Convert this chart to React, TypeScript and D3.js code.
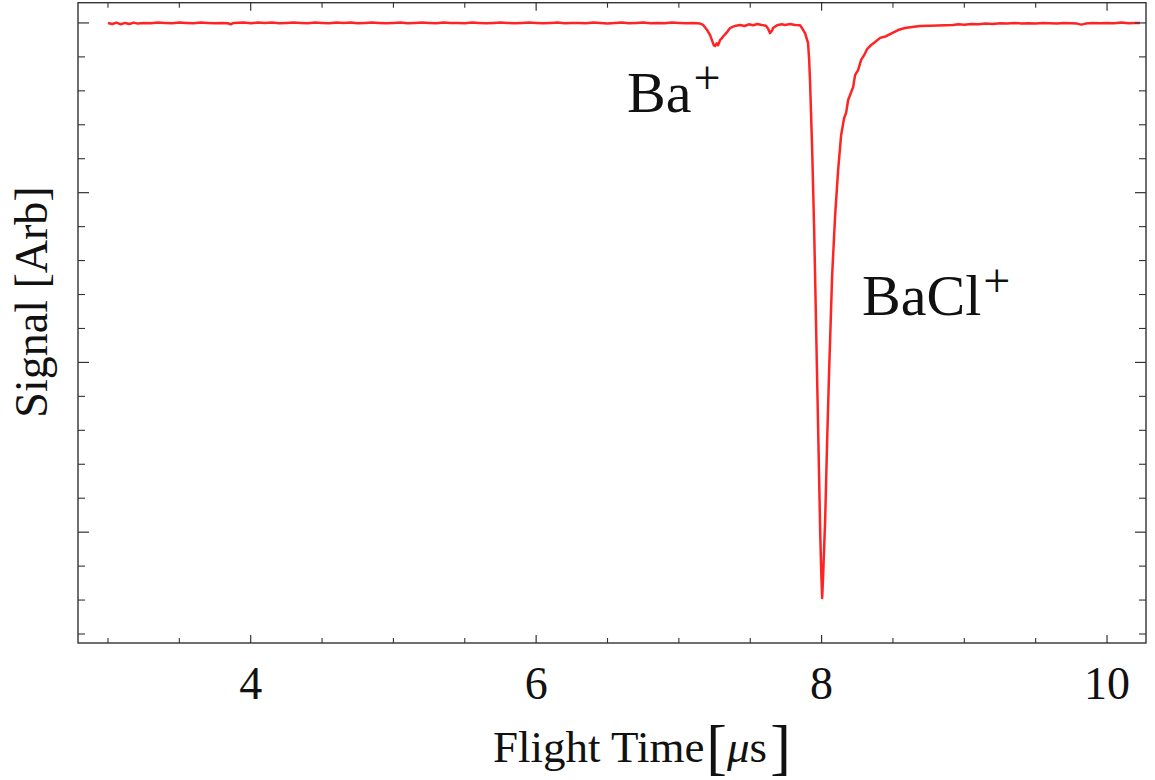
import React from "react";
import * as d3 from "d3";

// Flight time samples (µs)
const flightTime: number[] = [
  3.0, 3.03, 3.06, 3.09, 3.12, 3.15, 3.18, 3.21, 3.25, 3.3, 3.35, 3.4, 3.45, 3.5, 3.55, 3.6, 3.65, 3.7, 3.75, 3.8,
  3.84, 3.86, 3.88, 3.95, 4.0, 4.05, 4.1, 4.15, 4.2, 4.25, 4.3, 4.35, 4.4, 4.45, 4.5, 4.55, 4.6, 4.65, 4.7, 4.75,
  4.8, 4.85, 4.9, 4.95, 5.0, 5.05, 5.1, 5.15, 5.2, 5.25, 5.3, 5.35, 5.4, 5.45, 5.5, 5.55, 5.6, 5.65, 5.7, 5.75,
  5.8, 5.85, 5.9, 5.95, 6.0, 6.05, 6.1, 6.15, 6.2, 6.25, 6.3, 6.35, 6.4, 6.45, 6.5, 6.55, 6.6, 6.65, 6.7, 6.75,
  6.8, 6.85, 6.9, 6.95, 7.0, 7.05, 7.1, 7.149, 7.17, 7.198, 7.219, 7.233, 7.245, 7.254, 7.265, 7.275, 7.289, 7.3,
  7.31, 7.325, 7.338, 7.359, 7.38, 7.4, 7.43, 7.46, 7.49, 7.52, 7.55, 7.58, 7.61, 7.625, 7.639, 7.653, 7.66, 7.688,
  7.72, 7.744, 7.78, 7.814, 7.849, 7.863, 7.884, 7.905, 7.913, 7.92, 7.934, 7.948, 7.962, 7.976, 7.99, 7.997, 8.004,
  8.011, 8.025, 8.039, 8.053, 8.074, 8.095, 8.116, 8.137, 8.158, 8.172, 8.186, 8.207, 8.221, 8.235, 8.256, 8.277,
  8.298, 8.319, 8.347, 8.375, 8.41, 8.452, 8.494, 8.536, 8.585, 8.634, 8.69, 8.76, 8.866, 8.92, 8.96, 9.0, 9.05,
  9.1, 9.15, 9.2, 9.25, 9.3, 9.35, 9.4, 9.45, 9.5, 9.55, 9.6, 9.65, 9.7, 9.75, 9.79, 9.82, 9.85, 9.9, 9.95, 10.0,
  10.05, 10.1, 10.15, 10.2, 10.23,
];

// Signal (arbitrary units)
const signal: number[] = [
  0.0, -0.003, 0.001, -0.004, 0.0, -0.003, 0.001, -0.002, 0.0, -0.001, 0.001, 0.0, -0.001, 0.001, 0.0, -0.001, 0.001, 0.0, -0.001, 0.0,
  -0.001, -0.004, 0.0, 0.001, -0.001, 0.001, 0.0, 0.001, -0.001, 0.0, 0.001, 0.0, -0.001, 0.001, 0.0, -0.001, 0.001, 0.0, 0.001, -0.001,
  0.0, 0.001, 0.0, -0.001, 0.0, 0.001, -0.001, 0.0, 0.001, 0.0, -0.001, 0.001, 0.0, 0.0, -0.001, 0.001, 0.0, -0.001, 0.0, 0.001,
  0.0, -0.001, 0.0, 0.001, 0.0, -0.001, 0.0, 0.001, -0.001, 0.0, 0.0, -0.001, 0.001, 0.0, -0.002, 0.0, 0.001, -0.001, 0.0, 0.001,
  -0.001, 0.0, -0.001, 0.001, 0.0, -0.001, 0.0, -0.002, -0.006, -0.021, -0.036, -0.052, -0.066, -0.068, -0.06, -0.066, -0.05, -0.046,
  -0.04, -0.033, -0.027, -0.015, -0.011, -0.008, -0.006, -0.009, -0.004, -0.007, -0.003, -0.006, -0.008, -0.017, -0.03, -0.022, -0.015, -0.007,
  -0.004, -0.006, -0.003, -0.006, -0.007, -0.015, -0.03, -0.059, -0.109, -0.183, -0.374, -0.61, -0.905, -1.199, -1.494, -1.611, -1.694,
  -1.626, -1.464, -1.229, -1.022, -0.743, -0.566, -0.433, -0.33, -0.28, -0.265, -0.227, -0.204, -0.189, -0.153, -0.139, -0.109,
  -0.095, -0.077, -0.065, -0.056, -0.044, -0.039, -0.03, -0.021, -0.015, -0.012, -0.009, -0.008, -0.007, -0.006, -0.004, -0.005, -0.003,
  -0.004, -0.002, -0.003, -0.001, -0.002, 0.0, -0.002, -0.001, -0.002, 0.0, -0.001, -0.002, 0.0, -0.001, -0.002, -0.005, -0.002, 0.0, -0.001, 0.0,
  -0.001, 0.001, -0.001, 0.0, 0.0,
];

// Axis ticks
const xMajorTicks: number[] = [4, 6, 8, 10];
const xMinorTicks: number[] = [3, 3.5, 4.5, 5, 5.5, 6.5, 7, 7.5, 8.5, 9, 9.5];
const yMajorTicks: number[] = [0, -0.5, -1, -1.5];
const yMinorTicks: number[] = [-0.1, -0.2, -0.3, -0.4, -0.6, -0.7, -0.8, -0.9, -1.1, -1.2, -1.3, -1.4, -1.6, -1.7, -1.8];

// Peak annotations
const peakNames: string[] = ["Ba", "BaCl"];
const peakLabelT: number[] = [6.637, 8.284];
const peakLabelV: number[] = [-0.262, -0.86];

const FONT = "'Liberation Serif', 'Times New Roman', Times, serif";

export default function App() {
  const W = 1155;
  const H = 780;
  const left = 78;
  const right = 1146;
  const top = 2.7;
  const bottom = 643;

  const x = d3.scaleLinear().domain([2.79, 10.273]).range([left, right]);
  const y = d3.scaleLinear().domain([0.0596, -1.8265]).range([top, bottom]);

  const pts: [number, number][] = flightTime.map((t, i) => [t, signal[i]]);
  const line = d3
    .line<[number, number]>()
    .x((d) => x(d[0]))
    .y((d) => y(d[1]))
    .curve(d3.curveLinear);

  const frameColor = "#333";
  const xMajLen = 8;
  const xMinLen = 5;
  const yMajLen = 11;
  const yMinLen = 7;

  return (
    <svg
      width={W}
      height={H}
      style={{ position: "absolute", left: 0, top: 0, background: "#fff" }}
      fontFamily={FONT}
    >
      <rect x={0} y={0} width={W} height={H} fill="#fff" />
      {/* data line */}
      <path d={line(pts) || ""} fill="none" stroke="#ff2424" strokeWidth={2.5} strokeLinejoin="round" />

      {/* frame */}
      <rect x={left} y={top} width={right - left} height={bottom - top} fill="none" stroke={frameColor} strokeWidth={1.4} />

      {/* x ticks bottom and top */}
      {xMajorTicks.map((t) => (
        <g key={"xM" + t}>
          <line x1={x(t)} x2={x(t)} y1={bottom} y2={bottom - xMajLen} stroke={frameColor} strokeWidth={1.2} />
          <line x1={x(t)} x2={x(t)} y1={top} y2={top + xMajLen} stroke={frameColor} strokeWidth={1.2} />
          <text x={x(t)} y={699} textAnchor="middle" fontSize={46} fill="#111">
            {t}
          </text>
        </g>
      ))}
      {xMinorTicks.map((t) => (
        <g key={"xm" + t}>
          <line x1={x(t)} x2={x(t)} y1={bottom} y2={bottom - xMinLen} stroke={frameColor} strokeWidth={1.1} />
          <line x1={x(t)} x2={x(t)} y1={top} y2={top + xMinLen} stroke={frameColor} strokeWidth={1.1} />
        </g>
      ))}

      {/* y ticks left and right */}
      {yMajorTicks.map((v) => (
        <g key={"yM" + v}>
          <line x1={left} x2={left + yMajLen} y1={y(v)} y2={y(v)} stroke={frameColor} strokeWidth={1.2} />
          <line x1={right} x2={right - yMajLen} y1={y(v)} y2={y(v)} stroke={frameColor} strokeWidth={1.2} />
        </g>
      ))}
      {yMinorTicks.map((v) => (
        <g key={"ym" + v}>
          <line x1={left} x2={left + yMinLen} y1={y(v)} y2={y(v)} stroke={frameColor} strokeWidth={1.1} />
          <line x1={right} x2={right - yMinLen} y1={y(v)} y2={y(v)} stroke={frameColor} strokeWidth={1.1} />
        </g>
      ))}

      {/* axis labels */}
      <text x={493} y={762} fontSize={45} fill="#111">
        <tspan>Flight Time</tspan>
        <tspan fontSize={62} dy={6} dx={2}>[</tspan>
        <tspan fontStyle="italic" dy={-6}>μ</tspan>
        <tspan>s</tspan>
        <tspan fontSize={62} dy={6} dx={3}>]</tspan>
      </text>
      <text
        transform={`translate(47, 302) rotate(-90)`}
        textAnchor="middle"
        fontSize={46}
        fill="#111"
      >
        Signal [Arb]
      </text>

      {/* peak annotations */}
      {peakNames.map((name, i) => (
        <text key={name} x={x(peakLabelT[i])} y={y(peakLabelV[i])} fontSize={58} fill="#111">
          <tspan>{name}</tspan>
          <tspan fontSize={48} dy={-18} dx={2}>+</tspan>
        </text>
      ))}
    </svg>
  );
}
